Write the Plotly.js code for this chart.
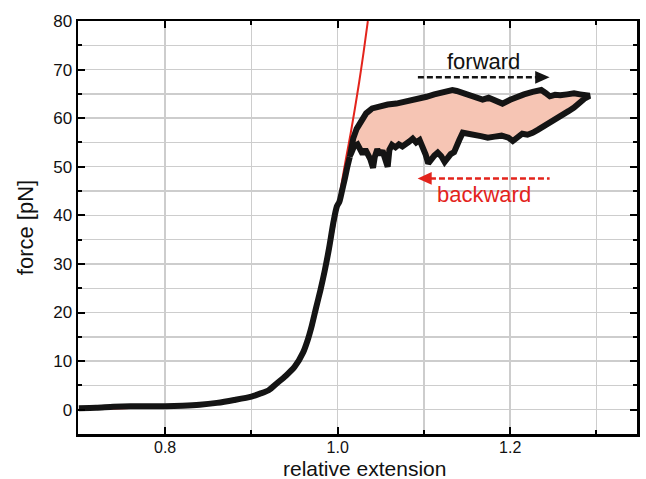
<!DOCTYPE html>
<html>
<head>
<meta charset="utf-8">
<script src="https://cdn.plot.ly/plotly-3.0.1.min.js"></script>
<style>html,body{margin:0;padding:0;background:#fff;}#chart{width:646px;height:479px;}</style>
</head>
<body>
<div id="chart"></div>
<script>
// approach (rising) part of the measured curve
const riseX = [0.700,0.720,0.740,0.760,0.780,0.800,0.820,0.840,0.860,0.880,0.900,0.910,0.920,0.930,0.940,0.950,0.960,0.965,0.970,0.975,0.980,0.985,0.990,0.995,0.999,1.002,1.005,1.008,1.011,1.014];
const riseY = [0.3,0.4,0.6,0.7,0.7,0.7,0.8,1.0,1.4,2.0,2.7,3.3,4.0,5.5,7.0,8.8,11.8,14.2,17.3,21.0,24.6,28.6,33.2,38.5,41.8,42.8,45.0,47.3,49.8,52.0];
// forward (upper) branch
const fwdX = [1.018,1.022,1.027,1.033,1.040,1.049,1.058,1.068,1.080,1.088,1.096,1.103,1.112,1.120,1.127,1.133,1.138,1.145,1.153,1.161,1.168,1.175,1.182,1.191,1.200,1.208,1.216,1.226,1.236,1.241,1.246,1.252,1.258,1.266,1.274,1.281,1.288,1.292];
const fwdY = [55.8,57.8,59.5,61.0,62.0,62.5,62.8,63.0,63.4,63.7,64.0,64.4,64.9,65.3,65.5,65.8,65.6,65.2,64.8,64.4,63.8,64.2,63.6,63.0,63.8,64.4,64.9,65.4,65.8,65.2,64.5,64.8,64.7,64.9,65.1,64.9,64.8,64.6];
// backward (lower) branch
const bwdX = [1.286,1.280,1.274,1.268,1.262,1.256,1.250,1.244,1.238,1.232,1.226,1.220,1.214,1.208,1.203,1.198,1.190,1.182,1.174,1.166,1.158,1.150,1.145,1.141,1.138,1.135,1.131,1.127,1.124,1.120,1.116,1.112,1.108,1.105,1.102,1.098,1.095,1.091,1.087,1.083,1.079,1.075,1.071,1.067,1.063,1.060,1.058,1.055,1.052,1.049,1.046,1.043,1.041,1.038,1.035,1.032,1.029,1.026,1.023,1.019,1.015];
const bwdY = [64.0,63.0,62.2,61.5,60.8,60.2,59.4,58.8,58.0,57.6,57.0,56.6,56.8,56.0,55.3,56.0,56.4,56.2,56.0,56.3,56.6,56.8,57.0,55.5,54.0,53.0,52.6,51.5,51.0,52.2,52.9,52.3,51.4,50.7,52.5,54.6,55.5,55.0,55.8,55.2,54.8,54.2,54.6,54.0,54.5,53.5,50.0,51.5,53.3,52.5,53.6,52.0,49.8,51.5,53.0,53.6,52.6,54.0,54.6,54.2,52.5];
// red fit curve
const fitX = [0.70,0.75,0.80,0.85,0.88,0.90,0.92,0.94,0.95,0.96,0.97,0.98,0.99,1.00,1.005,1.01,1.015,1.02,1.025,1.03,1.035];
const fitY = [0.1,0.3,0.6,1.1,1.8,2.6,4.3,7.0,9.2,12.3,16.8,23.5,32.0,41.5,47.0,52.0,56.8,62.0,67.5,73.5,80.0];

const xTickLabels = ['0.8','1.0','1.2'];
const yTickLabels = ['0','10','20','30','40','50','60','70','80'];

const FONT = 'Liberation Sans, Arial, Helvetica, sans-serif';
const GRID = '#cdcdcd';
const BLACK = '#141414';
const RED = '#e3241c';

const loopX = [riseX[riseX.length-1]].concat(fwdX, bwdX);
const loopY = [riseY[riseY.length-1]].concat(fwdY, bwdY);

const traces = [
  {x: loopX, y: loopY, type: 'scatter', mode: 'lines', fill: 'toself',
   fillcolor: 'rgb(246,197,180)', line: {width: 0, color: 'rgba(0,0,0,0)'}, hoverinfo: 'skip'},
  {x: fitX, y: fitY, type: 'scatter', mode: 'lines', line: {color: RED, width: 2, shape: 'spline', smoothing: 0.6}},
  {x: riseX, y: riseY, type: 'scatter', mode: 'lines', line: {color: BLACK, width: 6, shape: 'spline', smoothing: 0.7}},
  {x: loopX, y: loopY, type: 'scatter', mode: 'lines', line: {color: BLACK, width: 6}}
];

const axisCommon = {
  showline: true, linecolor: '#000', linewidth: 2.5, mirror: 'allticks',
  ticks: 'inside', ticklen: 7, tickwidth: 2, tickcolor: '#000',
  showgrid: true, gridcolor: GRID, gridwidth: 1.4, zeroline: false,
  tickfont: {family: FONT, size: 17, color: '#111'}
};

const layout = {
  width: 646, height: 479,
  margin: {l: 78, r: 9, t: 21, b: 45},
  paper_bgcolor: '#fff', plot_bgcolor: '#fff',
  showlegend: false,
  font: {family: FONT},
  xaxis: Object.assign({}, axisCommon, {
    range: [0.699, 1.347],
    tickfont: {family: FONT, size: 16, color: '#111'},
    ticklabelstandoff: -3,
    tickmode: 'array', tickvals: xTickLabels.map(Number), ticktext: xTickLabels,
    minor: {dtick: 0.1, tick0: 0, ticks: 'inside', ticklen: 4, tickwidth: 2, tickcolor: '#000', showgrid: true, gridcolor: GRID, gridwidth: 1.4}
  }),
  yaxis: Object.assign({}, axisCommon, {
    range: [-5, 80],
    tickmode: 'array', tickvals: yTickLabels.map(Number), ticktext: yTickLabels,
    minor: {dtick: 5, tick0: 0, ticks: 'inside', ticklen: 4, tickwidth: 2, tickcolor: '#000', showgrid: true, gridcolor: GRID, gridwidth: 1.4},
    title: {text: 'force [pN]', font: {family: FONT, size: 22, color: '#111'}, standoff: 14}
  }),
  shapes: [
    {type: 'line', xref: 'x', yref: 'y', x0: 1.093, x1: 1.231, y0: 68.4, y1: 68.4,
     line: {color: BLACK, width: 2.5, dash: '6px,3px'}},
    {type: 'path', xref: 'x', yref: 'y', path: 'M 1.229 69.7 L 1.2457 68.4 L 1.229 67.1 Z',
     fillcolor: BLACK, line: {width: 0}},
    {type: 'line', xref: 'x', yref: 'y', x0: 1.107, x1: 1.2457, y0: 47.6, y1: 47.6,
     line: {color: RED, width: 2.5, dash: '6px,3px'}},
    {type: 'path', xref: 'x', yref: 'y', path: 'M 1.109 48.9 L 1.0927 47.6 L 1.109 46.3 Z',
     fillcolor: RED, line: {width: 0}}
  ],
  annotations: [
    {x: 1.1695, y: 71.6, xref: 'x', yref: 'y', text: 'forward', showarrow: false,
     font: {family: FONT, size: 22, color: '#111'}, xanchor: 'center', yanchor: 'middle'},
    {x: 1.170, y: 44.2, xref: 'x', yref: 'y', text: 'backward', showarrow: false,
     font: {family: FONT, size: 22, color: RED}, xanchor: 'center', yanchor: 'middle'},
    {x: 0.5, y: 0, xref: 'paper', yref: 'paper', text: 'relative extension', showarrow: false,
     font: {family: FONT, size: 21, color: '#111'}, xanchor: 'center', yanchor: 'top',
     xshift: 7, yshift: -22, borderpad: 0}
  ]
};

Plotly.newPlot('chart', traces, layout, {displayModeBar: false, staticPlot: true});
</script>
</body>
</html>
